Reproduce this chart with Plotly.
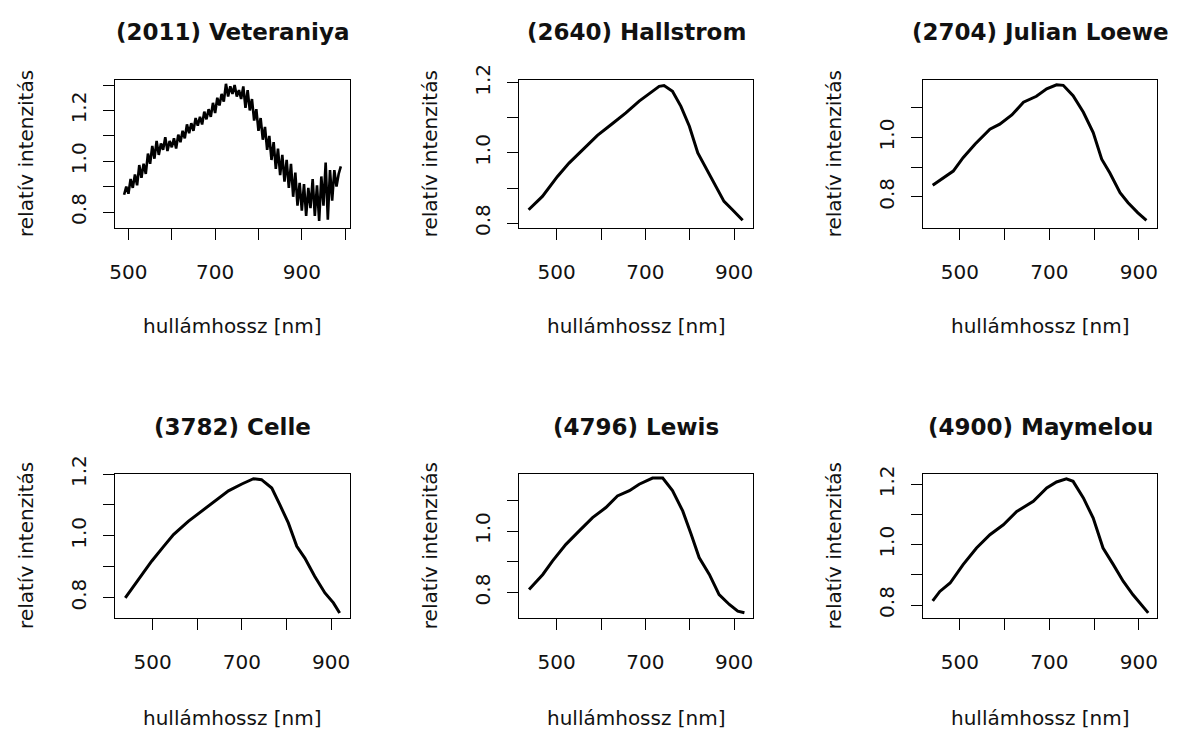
import plotly.graph_objects as go

W, H = 1188, 731

titles = ["(2011) Veteraniya", "(2640) Hallstrom", "(2704) Julian Loewe",
          "(3782) Celle", "(4796) Lewis", "(4900) Maymelou"]
x_label = "hullámhossz [nm]"
y_label = "relatív intenzitás"

# (2011) Veteraniya - noisy spectrum
wl_2011 = [490, 495, 500, 505, 510, 515, 520, 525, 530, 535, 540, 545, 550, 555, 560, 565,
           570, 575, 580, 585, 590, 595, 600, 605, 610, 615, 620, 625, 630, 635, 640, 645,
           650, 655, 660, 665, 670, 675, 680, 685, 690, 695, 700, 705, 710, 715, 720, 725,
           730, 735, 740, 745, 750, 755, 760, 765, 770, 775, 780, 785, 790, 795, 800, 805,
           810, 815, 820, 825, 830, 835, 840, 845, 850, 855, 860, 865, 870, 875, 880, 885,
           890, 895, 900, 905, 910, 915, 920, 925, 930, 935, 940, 945, 950, 955, 960, 965,
           970, 975, 980, 985, 990]
int_2011 = [0.868, 0.900, 0.872, 0.930, 0.895, 0.948, 0.905, 0.985, 0.935, 0.990, 0.950, 1.030,
            0.990, 1.060, 1.010, 1.080, 1.025, 1.070, 1.045, 1.095, 1.040, 1.080, 1.055, 1.090,
            1.050, 1.105, 1.075, 1.120, 1.090, 1.145, 1.110, 1.150, 1.120, 1.170, 1.140, 1.175,
            1.145, 1.195, 1.165, 1.205, 1.175, 1.230, 1.190, 1.250, 1.220, 1.265, 1.235, 1.305,
            1.255, 1.295, 1.265, 1.300, 1.255, 1.280, 1.245, 1.295, 1.210, 1.280, 1.200, 1.245,
            1.160, 1.205, 1.120, 1.170, 1.085, 1.135, 1.045, 1.100, 1.005, 1.075, 0.970, 1.050,
            0.945, 1.025, 0.920, 1.005, 0.895, 0.990, 0.860, 0.955, 0.825, 0.915, 0.805, 0.910,
            0.785, 0.895, 0.815, 0.930, 0.785, 0.905, 0.765, 0.940, 0.825, 0.995, 0.770, 0.965,
            0.845, 0.965, 0.900, 0.950, 0.980]

wl_2640 = [437, 468, 502, 528, 558, 592, 626, 656, 686, 712, 731, 742, 761, 780, 799, 818,
           836, 859, 877, 896, 919]
int_2640 = [0.838, 0.876, 0.933, 0.971, 1.008, 1.050, 1.084, 1.114, 1.148, 1.171, 1.190, 1.192,
            1.176, 1.133, 1.076, 1.000, 0.957, 0.905, 0.862, 0.838, 0.808]

wl_2704 = [439, 463, 485, 507, 534, 567, 589, 616, 642, 671, 694, 716, 731, 753, 776, 798,
           817, 835, 858, 876, 898, 917]
int_2704 = [0.839, 0.864, 0.887, 0.932, 0.978, 1.028, 1.045, 1.076, 1.119, 1.139, 1.164, 1.178,
            1.176, 1.141, 1.085, 1.017, 0.927, 0.881, 0.814, 0.780, 0.746, 0.721]

wl_3782 = [439, 469, 498, 525, 547, 580, 610, 644, 670, 700, 726, 744, 767, 785, 804, 823,
           841, 863, 886, 905, 919]
int_3782 = [0.799, 0.858, 0.918, 0.966, 1.004, 1.047, 1.080, 1.115, 1.146, 1.168, 1.185, 1.182,
            1.155, 1.101, 1.042, 0.966, 0.928, 0.869, 0.815, 0.783, 0.750]

wl_4796 = [438, 469, 491, 521, 551, 581, 611, 637, 664, 686, 716, 739, 761, 784, 803, 821,
           844, 866, 889, 908, 923]
int_4796 = [0.810, 0.859, 0.903, 0.957, 1.001, 1.044, 1.077, 1.115, 1.132, 1.153, 1.173, 1.173,
            1.132, 1.066, 0.990, 0.914, 0.859, 0.793, 0.761, 0.739, 0.734]

wl_4900 = [439, 455, 478, 507, 537, 567, 597, 627, 664, 694, 716, 738, 753, 776, 798, 820,
           843, 865, 887, 906, 921]
int_4900 = [0.814, 0.845, 0.873, 0.934, 0.989, 1.033, 1.066, 1.110, 1.144, 1.188, 1.208, 1.218,
            1.210, 1.155, 1.088, 0.989, 0.934, 0.879, 0.834, 0.801, 0.774]

x_ticks_a = [500, 600, 700, 800, 900, 1000]
x_text_a = ["500", "", "700", "", "900", ""]
x_ticks_b = [500, 600, 700, 800, 900]
x_text_b = ["500", "", "700", "", "900"]
y_ticks_a = [0.8, 0.9, 1.0, 1.1, 1.2, 1.3]
y_text_a = ["0.8", "", "1.0", "", "1.2", ""]
y_ticks_b = [0.8, 0.9, 1.0, 1.1, 1.2]
y_text_b = ["0.8", "", "1.0", "", "1.2"]
y_ticks_c = [0.8, 0.9, 1.0, 1.1]
y_text_c = ["0.8", "", "1.0", ""]

series = [(wl_2011, int_2011), (wl_2640, int_2640), (wl_2704, int_2704),
          (wl_3782, int_3782), (wl_4796, int_4796), (wl_4900, int_4900)]

# layout of the six plot boxes (pixels)
boxes = [(115, 349.5, 80, 228), (519.3, 753.3, 80, 228), (923.3, 1156.7, 80, 228),
         (115, 349.5, 473.5, 618.3), (519.3, 753.3, 473.5, 618.3), (923.3, 1156.7, 473.5, 618.3)]
x_ranges = [[469, 1010], [416, 943], [418, 940], [416, 941], [416, 943], [418, 940]]
y_ranges = [[0.737, 1.32], [0.786, 1.208], [0.695, 1.194], [0.733, 1.202], [0.716, 1.188], [0.756, 1.236]]
x_tick_sets = [(x_ticks_a, x_text_a)] + [(x_ticks_b, x_text_b)] * 5
y_tick_sets = [(y_ticks_a, y_text_a), (y_ticks_b, y_text_b), (y_ticks_c, y_text_c),
               (y_ticks_b, y_text_b), (y_ticks_c, y_text_c), (y_ticks_b, y_text_b)]
line_widths = [2.6, 3, 3, 3, 3, 3]

FONT = "DejaVu Sans"
TXT = "#111111"

fig = go.Figure()
layout = dict(width=W, height=H,
              margin=dict(l=0, r=0, t=0, b=0, pad=0, autoexpand=False),
              paper_bgcolor="white", plot_bgcolor="white", showlegend=False,
              font=dict(family=FONT, size=20, color=TXT), hovermode=False)
annotations = []


def px(x):
    return x / W


def py(y):
    return 1 - y / H


for i, ((xs, ys), (l, r, t, b)) in enumerate(zip(series, boxes)):
    n = i + 1
    xa = "x" if n == 1 else f"x{n}"
    ya = "y" if n == 1 else f"y{n}"
    fig.add_trace(go.Scatter(x=xs, y=ys, mode="lines", xaxis=xa, yaxis=ya,
                             line=dict(color="black", width=line_widths[i])))
    xt, xtt = x_tick_sets[i]
    yt, ytt = y_tick_sets[i]
    common = dict(showgrid=False, zeroline=False, showline=True, mirror=True,
                  linecolor="black", linewidth=1.3, ticks="outside", ticklen=11,
                  tickwidth=1.3, tickcolor="black", fixedrange=True, automargin=False,
                  tickfont=dict(family=FONT, size=20, color=TXT))
    layout["xaxis" if n == 1 else f"xaxis{n}"] = dict(
        common, domain=[px(l), px(r)], range=x_ranges[i], anchor=ya,
        tickmode="array", tickvals=xt, ticktext=xtt, ticklabelstandoff=15)
    layout["yaxis" if n == 1 else f"yaxis{n}"] = dict(
        common, domain=[py(b), py(t)], range=y_ranges[i], anchor=xa,
        tickmode="array", tickvals=yt, ticktext=ytt, tickangle=-90, ticklabelstandoff=9)
    row2 = i >= 3
    cx = (l + r) / 2
    annotations.append(dict(text=f"<b>{titles[i]}</b>", x=px(cx), y=py(426.5 if row2 else 32),
                            xref="paper", yref="paper", showarrow=False,
                            xanchor="center", yanchor="middle",
                            font=dict(family=FONT, size=23, color=TXT)))
    annotations.append(dict(text=x_label, x=px(cx), y=py(718 if row2 else 326),
                            xref="paper", yref="paper", showarrow=False,
                            xanchor="center", yanchor="middle",
                            font=dict(family=FONT, size=20, color=TXT)))
    annotations.append(dict(text=y_label, x=px(l - 89), y=py((t + b) / 2),
                            xref="paper", yref="paper", showarrow=False, textangle=-90,
                            xanchor="center", yanchor="middle",
                            font=dict(family=FONT, size=20, color=TXT)))

layout["annotations"] = annotations
fig.update_layout(**layout)
fig.write_html("out.html")
